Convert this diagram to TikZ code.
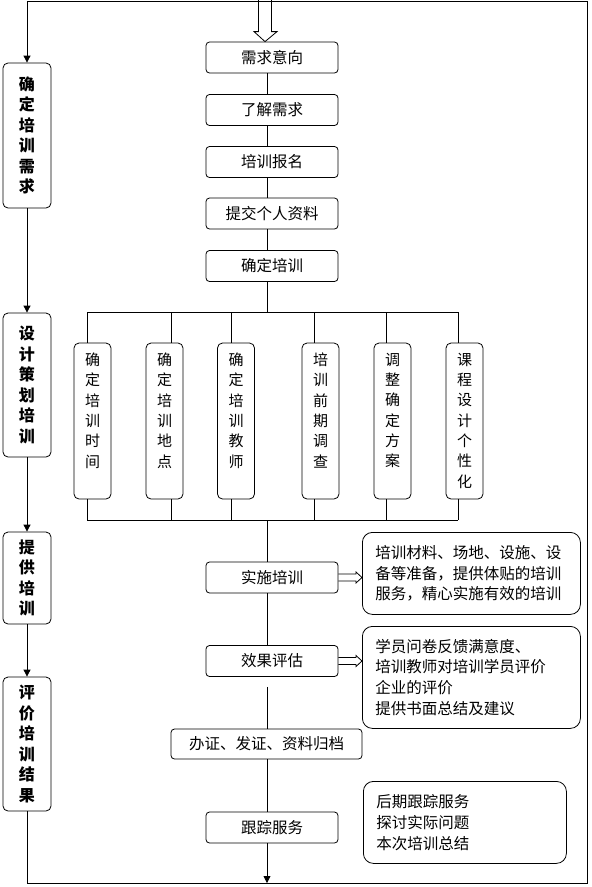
\documentclass[tikz,border=0pt]{standalone}
\usepackage{fontspec}
\setmainfont{Noto Sans CJK SC}
\usetikzlibrary{arrows.meta,calc}
\begin{document}
\begin{tikzpicture}[x=1pt,y=-1pt, line width=0.8pt,
  cbox/.style={draw, rounded corners=3.5pt, minimum width=132pt, minimum height=31pt, inner sep=0pt, font=\fontsize{15.5pt}{18pt}\selectfont},
  lbox/.style={draw, rounded corners=5pt, minimum width=48pt, inner sep=0pt, align=center, font=\fontsize{16pt}{20.5pt}\selectfont\bfseries},
  sbox/.style={draw, rounded corners=5pt, minimum width=37pt, minimum height=156pt, inner sep=0pt},
  stxt/.style={inner sep=0pt, align=center, anchor=north, font=\fontsize{15pt}{20.3pt}\selectfont},
  callout/.style={draw, rounded corners=10pt, align=left, inner xsep=13pt, inner ysep=0pt, anchor=north west, font=\fontsize{15.5pt}{20.8pt}\selectfont},
  arr/.style={-{Triangle[width=7pt,length=7pt]}},
]
\useasboundingbox (0,0) rectangle (592,887);
\coordinate (axis) at (267,0);
% frame corners
\coordinate (bl) at (27,883);
\coordinate (br) at (587,883);
\coordinate (tr) at (587,1);
\coordinate (tl) at (27,1);

% left column
\node[lbox, minimum height=145pt] (L1) at (27,135.5) {确\\定\\培\\训\\需\\求};
\node[lbox, minimum height=144pt] (L2) at (27,385) {设\\计\\策\\划\\培\\训};
\node[lbox, minimum height=92pt] (L3) at (27,578) {提\\供\\培\\训};
\node[lbox, minimum height=134pt] (L4) at (27,744) {评\\价\\培\\训\\结\\果};

% central boxes
\node[cbox] (need) at (272,57.5) {需求意向};
\node[cbox] (know) at (272,110) {了解需求};
\node[cbox] (sign) at (272,162) {培训报名};
\node[cbox] (subm) at (272,213.5) {提交个人资料};
\node[cbox] (conf) at (272,266) {确定培训};
\node[cbox] (impl) at (272,577.5) {实施培训};
\node[cbox] (eval) at (272,661) {效果评估};
\node[cbox, minimum width=191pt, minimum height=30pt] (arch) at (266.5,744) {办证、发证、资料归档};
\node[cbox] (foll) at (272,827.5) {跟踪服务};

% sub boxes
\foreach \n/\x/\t in {b1/92.5/{确\\定\\培\\训\\时\\间}, b2/164.5/{确\\定\\培\\训\\地\\点}, b3/236/{确\\定\\培\\训\\教\\师}, b4/320.5/{培\\训\\前\\期\\调\\查}, b5/392.5/{调\\整\\确\\定\\方\\案}, b6/464.5/{课\\程\\设\\计\\个\\性\\化}}{
  \node[sbox] (\n) at (\x,421) {};
  \node[stxt] (\n t) at ($(\n.north)+(0,10)$) {\t};
}

% callouts
\node[callout, minimum width=218pt, minimum height=82pt, text width=192pt] (c1) at (362,532) {培训材料、场地、设施、设\\备等准备，提供体贴的培训\\服务，精心实施有效的培训};
\node[callout, minimum width=218pt, minimum height=102pt, text width=192pt] (c2) at (362,626) {学员问卷反馈满意度、\\培训教师对培训学员评价\\企业的评价\\提供书面总结及建议};
\node[callout, minimum width=203pt, minimum height=82pt, text width=177pt] (c3) at (363,781) {后期跟踪服务\\探讨实际问题\\本次培训总结};

% frame loop
\draw[arr] (L4.south) -- (bl) -- (br) -- (tr) -- (tl) -- (L1.north);
\draw[arr] (L1.south) -- (L2.north);
\draw[arr] (L2.south) -- (L3.north);
\draw[arr] (L3.south) -- (L4.north);

% top hollow arrow into need
\draw[line join=miter] ($(need.north)+(-13.5,-42)$) -- ($(need.north)+(-13.5,-10)$) -- ($(need.north)+(-18,-10)$) -- ($(need.north)+(-7,0)$) -- ($(need.north)+(5,-10)$) -- ($(need.north)+(-0.5,-10)$) -- ($(need.north)+(-0.5,-42)$);

% central chain
\draw (need.south -| axis) -- (know.north -| axis);
\draw (know.south -| axis) -- (sign.north -| axis);
\draw (sign.south -| axis) -- (subm.north -| axis);
\draw (subm.south -| axis) -- (conf.north -| axis);
\coordinate (busT) at (267,312);
\coordinate (busB) at (267,520);
\draw (conf.south -| axis) -- (busT);
\draw (87,312) -- (458,312);
\draw (87,520) -- (458,520);
\foreach \n/\x in {b1/87, b2/171, b3/231, b4/314, b5/386, b6/458}{
  \draw (\x,312) -- (\x,312 |- \n.north);
  \draw (\x,520) -- (\x,520 |- \n.south);
}
\draw (busB) -- (impl.north -| axis);
\draw (impl.south -| axis) -- (eval.north -| axis);
\draw ($(eval.south -| axis)+(0,10)$) -- (arch.north -| axis);
\draw (arch.south -| axis) -- (foll.north -| axis);
\draw[arr] (foll.south -| axis) -- (axis |- bl);

% hollow side arrows
\foreach \a/\c in {impl/c1, eval/c2}{
  \draw[line join=miter] ($(\a.east)+(0,-3.5)$) -- ($(\c.west |- \a.east)+(-6,-3.5)$) -- ($(\c.west |- \a.east)+(-6,-5.5)$) -- (\c.west |- \a.east) -- ($(\c.west |- \a.east)+(-6,5.5)$) -- ($(\c.west |- \a.east)+(-6,3.5)$) -- ($(\a.east)+(0,3.5)$);
}
\end{tikzpicture}
\end{document}
